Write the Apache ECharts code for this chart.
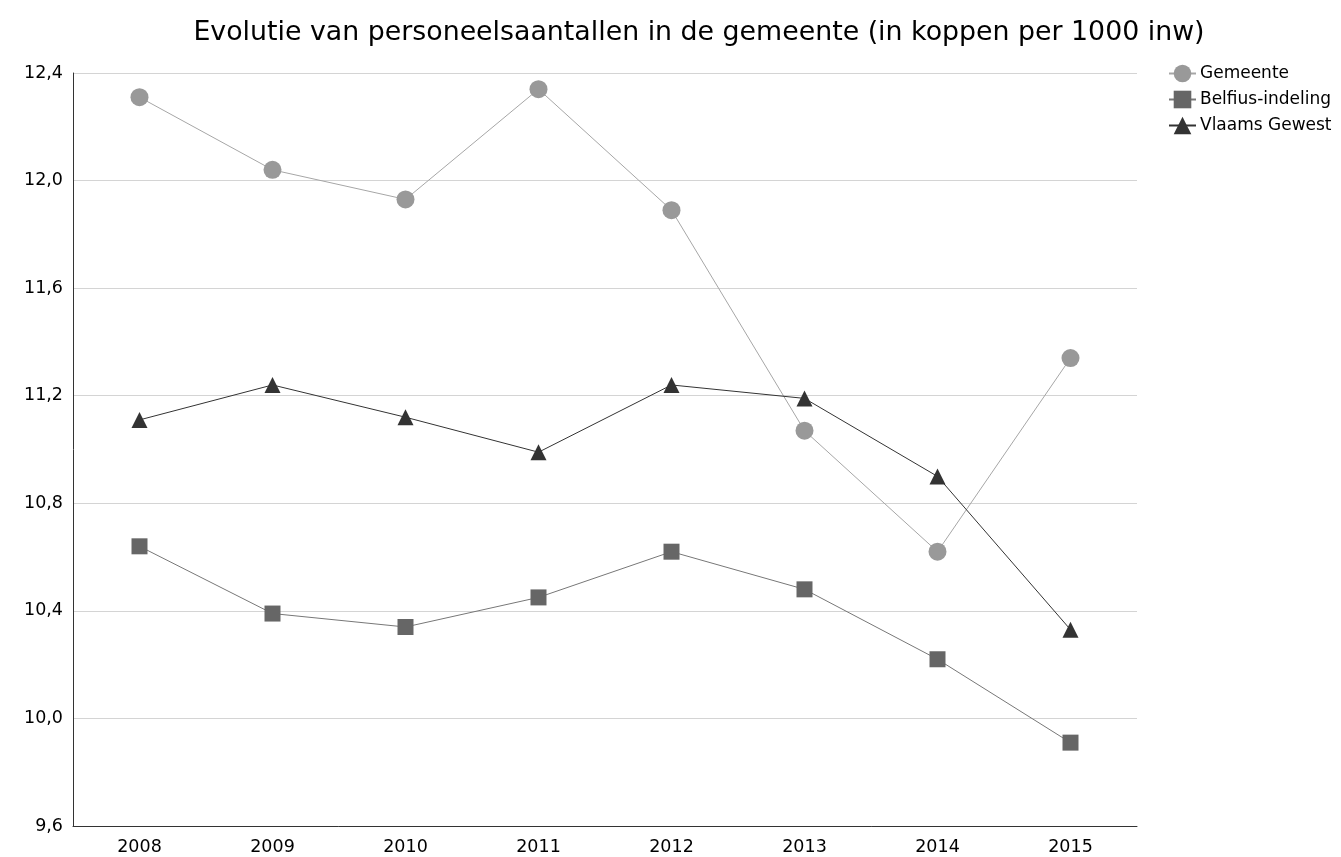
<!DOCTYPE html>
<html>
<head>
<meta charset="utf-8">
<title>Evolutie personeelsaantallen</title>
<script src="https://cdn.jsdelivr.net/npm/echarts@6/dist/echarts.min.js"></script>
<style>
    html, body { margin: 0; padding: 0; background: #fff; }
    #chart { width: 1341px; height: 857px; }
</style>
</head>
<body>
<div id="chart"></div>
<script>
// jaren en waarden (koppen per 1000 inwoners)
var jaren = ['2008', '2009', '2010', '2011', '2012', '2013', '2014', '2015'];
var gemeente = [12.31, 12.04, 11.93, 12.34, 11.89, 11.07, 10.62, 11.34];
var belfius = [10.64, 10.39, 10.34, 10.45, 10.62, 10.48, 10.22, 9.91];
var vlaams = [11.11, 11.24, 11.12, 10.99, 11.24, 11.19, 10.90, 10.33];
var yTicks = { min: 9.6, max: 12.4, interval: 0.4 };

var font = 'DejaVu Sans';

var myChart = echarts.init(document.getElementById('chart'));

function lijn(naam, data, kleur, lijnKleur, symbool, grootte) {
    return {
        name: naam,
        type: 'line',
        data: data,
        symbol: symbool,
        symbolSize: grootte,
        showAllSymbol: true,
        animation: false,
        itemStyle: { color: kleur },
        lineStyle: { color: lijnKleur, width: 1 }
    };
}

var option = {
    title: {
        text: 'Evolutie van personeelsaantallen in de gemeente (in koppen per 1000 inw)',
        left: 694,
        textAlign: 'center',
        top: 15,
        textStyle: { fontFamily: font, fontSize: 26.8, fontWeight: 'normal', color: '#000' }
    },
    legend: {
        orient: 'vertical',
        left: 1163,
        top: 59,
        itemWidth: 27,
        itemHeight: 22,
        itemGap: 7,
        selectedMode: false,
        textStyle: { fontFamily: font, fontSize: 17, lineHeight: 19, color: '#000', padding: [0, 0, 0, -1] },
        data: ['Gemeente', 'Belfius-indeling', 'Vlaams Gewest']
    },
    grid: { left: 73, right: 204, top: 73, bottom: 31, containLabel: false },
    xAxis: {
        type: 'category',
        data: jaren,
        boundaryGap: true,
        axisLine: { lineStyle: { color: '#333', width: 1 } },
        axisTick: { show: false },
        axisLabel: { fontFamily: font, fontSize: 17.5, color: '#000', margin: 12 },
        splitLine: { show: false }
    },
    yAxis: {
        type: 'value',
        min: yTicks.min,
        max: yTicks.max,
        interval: yTicks.interval,
        axisLine: { show: true, lineStyle: { color: '#333', width: 1 } },
        axisTick: { show: false },
        axisLabel: {
            fontFamily: font, fontSize: 17.5, color: '#000', margin: 10,
            formatter: function (v) { return v.toFixed(1).replace('.', ','); }
        },
        splitLine: { lineStyle: { color: '#d4d4d4', width: 1 } }
    },
    series: [
        lijn('Gemeente', gemeente, '#999999', '#a6a6a6', 'circle', 18),
        lijn('Belfius-indeling', belfius, '#666666', '#777777', 'rect', 16),
        lijn('Vlaams Gewest', vlaams, '#333333', '#333333', 'triangle', 16)
    ]
};

myChart.setOption(option);

window.onresize = function () {
    myChart.resize();
};
</script>
</body>
</html>
